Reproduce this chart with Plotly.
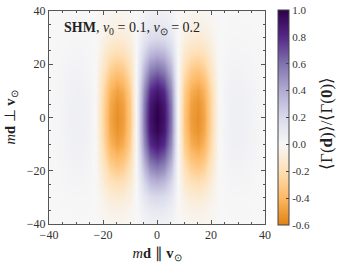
import numpy as np
import plotly.graph_objects as go

x_half = [0, 2.5, 5, 7.5, 10, 12.5, 15, 17.5, 20, 22.5, 25, 27.5, 30, 32.5, 35, 37.5, 40]
profile_half = [1.0, 0.90, 0.58, 0.06, -0.32, -0.50, -0.55, -0.47, -0.25, -0.02, 0.03, 0.05, 0.055, 0.045, 0.03, 0.015, 0.005]

y_half = [0, 5, 10, 15, 20, 25, 30, 35, 40]
envelope_half = [1.0, 0.97, 0.88, 0.72, 0.53, 0.35, 0.20, 0.10, 0.05]

cbar_vals = [-0.6, -0.4, -0.2, 0.0, 0.2, 0.4, 0.6, 0.8, 1.0]
cbar_text = ["-0.6", "-0.4", "-0.2", "0.0", "0.2", "0.4", "0.6", "0.8", "1.0"]
axis_ticks = [-40, -20, 0, 20, 40]

xs = np.concatenate([-np.array(x_half[:0:-1]), np.array(x_half)])
px = np.concatenate([np.array(profile_half[:0:-1]), np.array(profile_half)])
ys = np.concatenate([-np.array(y_half[:0:-1]), np.array(y_half)])
py = np.concatenate([np.array(envelope_half[:0:-1]), np.array(envelope_half)])
Z = np.outer(py, px)

zmin, zmax = -0.6, 1.0
stops = [(-0.6, "#e08214"), (-0.4, "#fdb863"), (-0.2, "#fee0b6"), (0.0, "#f7f7f7"),
         (0.2, "#d8daeb"), (0.4, "#b2abd2"), (0.6, "#8073ac"), (0.8, "#542788"), (1.0, "#2d004b")]
cscale = [[(v - zmin) / (zmax - zmin), c] for v, c in stops]

FONT = "Liberation Serif"

fig = go.Figure(go.Heatmap(
    x=xs, y=ys, z=Z, zmin=zmin, zmax=zmax, zsmooth="best",
    colorscale=cscale,
    colorbar=dict(
        thickness=11, lenmode="pixels", len=215, y=0.5, yanchor="middle",
        x=1.06, xanchor="left", xpad=0, ypad=0,
        outlinewidth=1, outlinecolor="#444",
        tickvals=cbar_vals, ticktext=cbar_text,
        ticks="inside", ticklen=3, tickcolor="#444",
        tickfont=dict(family=FONT, size=11, color="#333"),
    ),
))

axis_common = dict(
    range=[-40, 40], tickvals=axis_ticks, ticks="inside", ticklen=4, tickcolor="#555",
    showline=True, linecolor="#555", linewidth=1, mirror="ticks",
    showgrid=False, zeroline=False, automargin=False,
    tickfont=dict(family=FONT, size=12, color="#333"),
    minor=dict(dtick=5, ticks="inside", ticklen=2, tickcolor="#555", showgrid=False),
)

fig.update_layout(
    width=337, height=265,
    margin=dict(l=49, r=72, t=11, b=41, autoexpand=False),
    paper_bgcolor="white", plot_bgcolor="#f7f7f7",
    xaxis=dict(axis_common, title=dict(text="<i>m</i><b>d</b> ∥ <b>v</b><sub>⊙</sub>",
                                        font=dict(family=FONT, size=14.5, color="#222"), standoff=6)),
    yaxis=dict(axis_common, title=dict(text="<i>m</i><b>d</b> ⊥ <b>v</b><sub>⊙</sub>",
                                        font=dict(family=FONT, size=14.5, color="#222"), standoff=7)),
    annotations=[
        dict(text="<b>SHM</b>, <i>v</i><sub>0</sub> = 0.1, <i>v</i><sub>⊙</sub> = 0.2",
             xref="paper", yref="paper", x=0.06, y=0.965, xanchor="left", yanchor="top",
             showarrow=False, font=dict(family=FONT, size=14, color="#222")),
        dict(text="⟨Γ(<b>d</b>)⟩/⟨Γ(<b>0</b>)⟩", textangle=-90,
             xref="paper", yref="paper", x=(327 - 49) / 216, y=0.47,
             xanchor="center", yanchor="middle",
             showarrow=False, font=dict(family=FONT, size=17, color="#222")),
    ],
)

fig.write_html("out.html", config={"displayModeBar": False},
               post_script="document.body.style.margin='0';")
